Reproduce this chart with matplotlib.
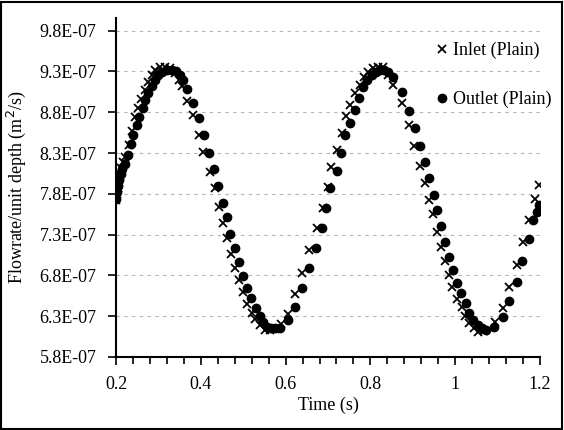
import matplotlib
matplotlib.use("Agg")
import matplotlib.pyplot as plt
from matplotlib.ticker import FuncFormatter, MultipleLocator, FixedLocator
from matplotlib.patches import Rectangle

# time (s) and flowrate per unit depth (x 1E-07 m^2/s)
inlet_t = [0.200, 0.2024, 0.2047, 0.2071, 0.2094, 0.2118, 0.2165, 0.2212, 0.2307, 0.2377,
           0.2448, 0.2519, 0.2590, 0.2684, 0.2755, 0.2849, 0.2920, 0.3038, 0.3156, 0.3274,
           0.3392, 0.3486, 0.3557, 0.3675, 0.3816, 0.3958, 0.4052, 0.4217, 0.4335, 0.4429,
           0.4524, 0.4618, 0.4712, 0.4807, 0.4901, 0.4995, 0.5090, 0.5208, 0.5278, 0.5396,
           0.5514, 0.5632, 0.5750, 0.5892, 0.6057, 0.6222, 0.6387, 0.6552, 0.6741, 0.6882,
           0.7000, 0.7071, 0.7212, 0.7330, 0.7425, 0.7519, 0.7637, 0.7755, 0.7849, 0.7943,
           0.8061, 0.8179, 0.8297, 0.8415, 0.8533, 0.8745, 0.8910, 0.9028, 0.9170, 0.9288,
           0.9382, 0.9476, 0.9571, 0.9665, 0.9759, 0.9854, 0.9925, 1.0042, 1.0160, 1.0231,
           1.0325, 1.0443, 1.0538, 1.0679, 1.0939, 1.1127, 1.1269, 1.1458, 1.1599, 1.1741,
           1.1882, 1.1976]
inlet_q = [7.72, 7.80, 7.87, 7.94, 8.02, 8.12, 8.19, 8.25, 8.40, 8.57,
           8.74, 8.85, 8.96, 9.07, 9.17, 9.26, 9.32, 9.35, 9.35, 9.34,
           9.28, 9.19, 9.12, 8.94, 8.77, 8.52, 8.31, 8.07, 7.87, 7.64,
           7.44, 7.26, 7.06, 6.89, 6.74, 6.60, 6.45, 6.34, 6.27, 6.19,
           6.13, 6.13, 6.14, 6.20, 6.33, 6.57, 6.83, 7.11, 7.38, 7.63,
           7.88, 8.13, 8.34, 8.55, 8.75, 8.89, 9.04, 9.13, 9.23, 9.29,
           9.34, 9.35, 9.35, 9.26, 9.13, 8.91, 8.64, 8.39, 8.14, 7.93,
           7.72, 7.55, 7.33, 7.15, 6.98, 6.80, 6.66, 6.51, 6.41, 6.30,
           6.22, 6.16, 6.11, 6.12, 6.23, 6.40, 6.66, 6.93, 7.21, 7.48,
           7.74, 7.91]

outlet_t = [0.200, 0.2024, 0.2047, 0.2071, 0.2118, 0.2142, 0.2212, 0.2283, 0.2354, 0.2401,
            0.2495, 0.2542, 0.2637, 0.2684, 0.2755, 0.2849, 0.2920, 0.2991, 0.3085, 0.3203,
            0.3321, 0.3415, 0.3509, 0.3580, 0.3675, 0.3816, 0.3958, 0.4075, 0.4193, 0.4311,
            0.4406, 0.4524, 0.4618, 0.4689, 0.4807, 0.4901, 0.4995, 0.5090, 0.5184, 0.5302,
            0.5396, 0.5467, 0.5561, 0.5656, 0.5750, 0.5868, 0.6057, 0.6222, 0.6387, 0.6552,
            0.6717, 0.6858, 0.6953, 0.7047, 0.7212, 0.7307, 0.7401, 0.7519, 0.7637, 0.7731,
            0.7825, 0.7920, 0.8038, 0.8132, 0.8226, 0.8321, 0.8415, 0.8533, 0.8745, 0.8910,
            0.9052, 0.9170, 0.9288, 0.9382, 0.9500, 0.9571, 0.9665, 0.9759, 0.9854, 0.9948,
            1.0042, 1.0137, 1.0255, 1.0325, 1.0420, 1.0538, 1.0632, 1.0726, 1.0915, 1.1127,
            1.1269, 1.1458, 1.1575, 1.1741, 1.1835, 1.1929, 1.1976]
outlet_q = [7.74, 7.82, 7.90, 7.97, 8.04, 8.10, 8.17, 8.28, 8.41, 8.52,
            8.64, 8.74, 8.85, 8.95, 9.04, 9.12, 9.19, 9.26, 9.29, 9.32,
            9.32, 9.30, 9.26, 9.19, 9.08, 8.91, 8.73, 8.52, 8.30, 8.10,
            7.90, 7.69, 7.52, 7.31, 7.14, 6.96, 6.79, 6.65, 6.52, 6.40,
            6.30, 6.23, 6.17, 6.16, 6.16, 6.16, 6.25, 6.41, 6.65, 6.89,
            7.14, 7.38, 7.63, 7.87, 8.08, 8.30, 8.52, 8.67, 8.83, 8.97,
            9.11, 9.19, 9.26, 9.29, 9.32, 9.32, 9.29, 9.23, 9.05, 8.81,
            8.61, 8.39, 8.19, 7.99, 7.79, 7.60, 7.41, 7.21, 7.03, 6.87,
            6.71, 6.58, 6.46, 6.34, 6.25, 6.19, 6.16, 6.13, 6.17, 6.29,
            6.49, 6.72, 6.98, 7.25, 7.48, 7.58, 7.66]

y_ticks = [5.8, 6.3, 6.8, 7.3, 7.8, 8.3, 8.8, 9.3, 9.8]

plt.rcParams['font.family'] = ['Liberation Serif', 'DejaVu Serif']

fig = plt.figure(figsize=(5.64, 4.30), dpi=100)
ax = fig.add_axes([116/564, 1 - 357/430, (540 - 116)/564, (357 - 18)/430])

scale = 1e-7
ax.plot(inlet_t, [q * scale for q in inlet_q], linestyle='none', marker='x',
        color='black', markersize=5.2, markeredgewidth=1.3, label='Inlet (Plain)')
ax.plot(outlet_t, [q * scale for q in outlet_q], linestyle='none', marker='o',
        color='black', markersize=6, label='Outlet (Plain)')

ax.set_xlim(0.2, 1.2)
ax.set_ylim(5.8e-7, 9.955e-7)
ax.xaxis.set_major_locator(MultipleLocator(0.2))
ax.xaxis.set_minor_locator(MultipleLocator(0.04))
ax.xaxis.set_major_formatter(FuncFormatter(lambda v, p: '%g' % round(v, 2)))
ax.yaxis.set_major_locator(FixedLocator([v * scale for v in y_ticks]))
ax.yaxis.set_major_formatter(FuncFormatter(lambda v, p: '%.1E' % v))

for s in ['top', 'right']:
    ax.spines[s].set_visible(False)
for s in ['left', 'bottom']:
    ax.spines[s].set_linewidth(1.5)

ax.tick_params(axis='both', which='major', direction='out', length=6, width=1.2,
               labelsize=13, pad=8)
ax.tick_params(axis='x', which='minor', direction='out', length=5, width=1.2)
ax.yaxis.grid(True, color='#b4b4b4', linestyle=(0, (3, 4)), linewidth=0.8)
ax.set_axisbelow(True)

ax.set_xlabel('Time (s)', fontsize=13, labelpad=2)
ax.set_ylabel('Flowrate/unit depth (m$^2$/s)', fontsize=13, labelpad=8)

ax.legend(loc='upper left', bbox_to_anchor=(428/564, 1 - 33/430),
          bbox_transform=fig.transFigure, frameon=False, fontsize=13,
          handlelength=0.6, handletextpad=0.3, labelspacing=1.75, borderpad=0)

# border around the whole figure
fig.patches.append(Rectangle((0.002, 0.003), 0.995, 0.993, transform=fig.transFigure,
                             fill=False, edgecolor='black', linewidth=1.5))

fig.savefig('out.png', dpi=100)
